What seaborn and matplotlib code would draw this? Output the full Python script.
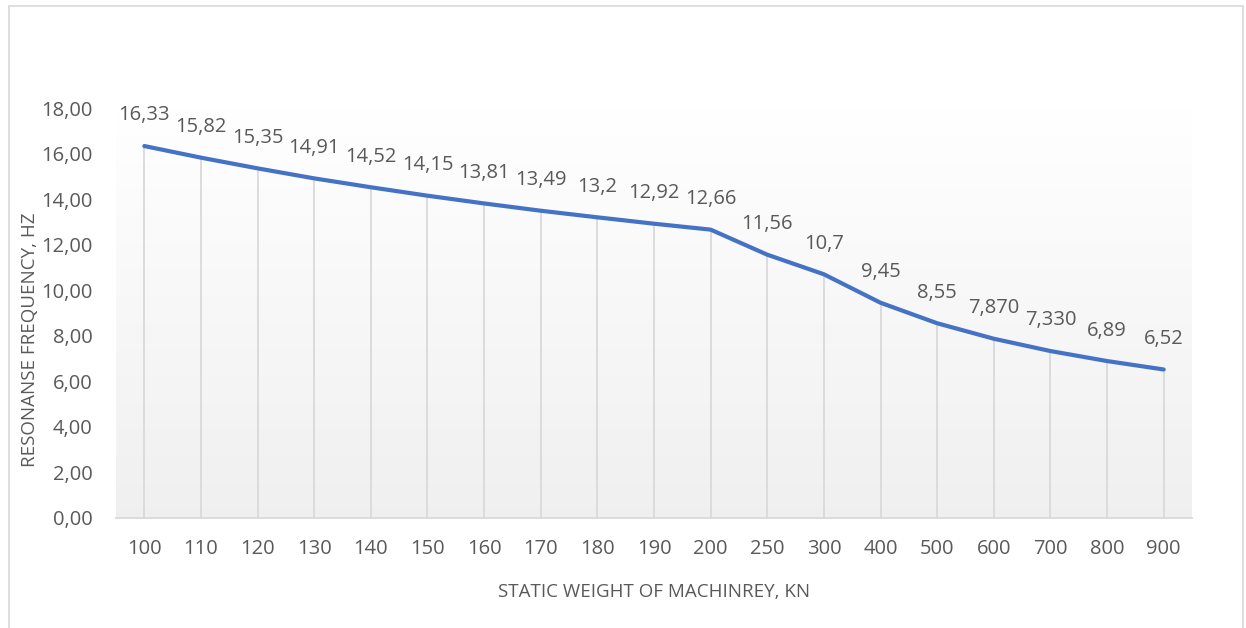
import numpy as np
import pandas as pd
import matplotlib
matplotlib.use("Agg")
import matplotlib.pyplot as plt
import seaborn as sns
from matplotlib.patches import Rectangle

# Static weight of machinery (kN) and the resonance frequency (Hz)
weights = ["100", "110", "120", "130", "140", "150", "160", "170", "180", "190",
           "200", "250", "300", "400", "500", "600", "700", "800", "900"]
frequencies = [16.33, 15.82, 15.35, 14.91, 14.52, 14.15, 13.81, 13.49, 13.2, 12.92,
               12.66, 11.56, 10.7, 9.45, 8.55, 7.87, 7.33, 6.89, 6.52]
point_labels = ["16,33", "15,82", "15,35", "14,91", "14,52", "14,15", "13,81", "13,49",
                "13,2", "12,92", "12,66", "11,56", "10,7", "9,45", "8,55", "7,870",
                "7,330", "6,89", "6,52"]
y_ticks = [0, 2, 4, 6, 8, 10, 12, 14, 16, 18]
y_tick_labels = ["0,00", "2,00", "4,00", "6,00", "8,00", "10,00", "12,00",
                 "14,00", "16,00", "18,00"]

sns.set_theme(style="white")
plt.rcParams["font.family"] = ["Open Sans", "DejaVu Sans"]

text_color = "#595959"
line_color = "#4472C4"
grid_color = "#d9d9d9"

df = pd.DataFrame({"pos": np.arange(len(weights)), "freq": frequencies})

fig = plt.figure(figsize=(12.46, 6.28), dpi=100)
fig.patch.set_facecolor("white")
# chart frame
fig.add_artist(Rectangle((9 / 1246, -0.01), (1243 - 9) / 1246, 1 - 6 / 628 + 0.01,
                         transform=fig.transFigure, fill=False,
                         edgecolor="#d9d9d9", linewidth=1.2))

ax = fig.add_axes([116 / 1246, 1 - 518 / 628, (1192 - 116) / 1246, (518 - 108) / 628])

# vertical gradient plot area: white at the top, light grey at the bottom
grad = np.linspace(1.0, 0.0, 256).reshape(-1, 1)
top = np.array([1.0, 1.0, 1.0])
bottom = np.array([0.94, 0.94, 0.94])
img = top * grad[..., None] + bottom * (1 - grad[..., None])
ax.imshow(img, extent=[0, 1, 0, 1], transform=ax.transAxes, aspect="auto", zorder=0)

# drop lines from each point to the category axis
ax.vlines(df["pos"], 0, df["freq"], colors=grid_color, linewidth=1.3, zorder=1)

sns.lineplot(data=df, x="pos", y="freq", ax=ax, color=line_color, linewidth=3,
             zorder=3, solid_capstyle="round")

for p, v, lab in zip(df["pos"], df["freq"], point_labels):
    ax.annotate(lab, (p, v), xytext=(0, 22), textcoords="offset points",
                ha="center", va="center", fontsize=14.5, color=text_color)

ax.set_xlim(-0.5, len(weights) - 0.5)
ax.set_ylim(0, 18)
ax.set_xticks(df["pos"])
ax.set_xticklabels(weights)
ax.set_yticks(y_ticks)
ax.set_yticklabels(y_tick_labels)
ax.tick_params(axis="both", length=0, labelsize=14.5, labelcolor=text_color)
ax.tick_params(axis="x", pad=15)
ax.tick_params(axis="y", pad=17)

for side in ["top", "right", "left"]:
    ax.spines[side].set_visible(False)
ax.spines["bottom"].set_color(grid_color)
ax.spines["bottom"].set_linewidth(1.3)

ax.set_xlabel("STATIC WEIGHT OF MACHINREY, KN", fontsize=13.5, color=text_color)
ax.set_ylabel("RESONANSE FREQUENCY, HZ", fontsize=13.5, color=text_color)
ax.xaxis.set_label_coords(0.5, (518 - 583) / 410)
ax.yaxis.set_label_coords((39 - 116) / 1076, 0.435)

fig.savefig("out.png", dpi=100, facecolor="white")
